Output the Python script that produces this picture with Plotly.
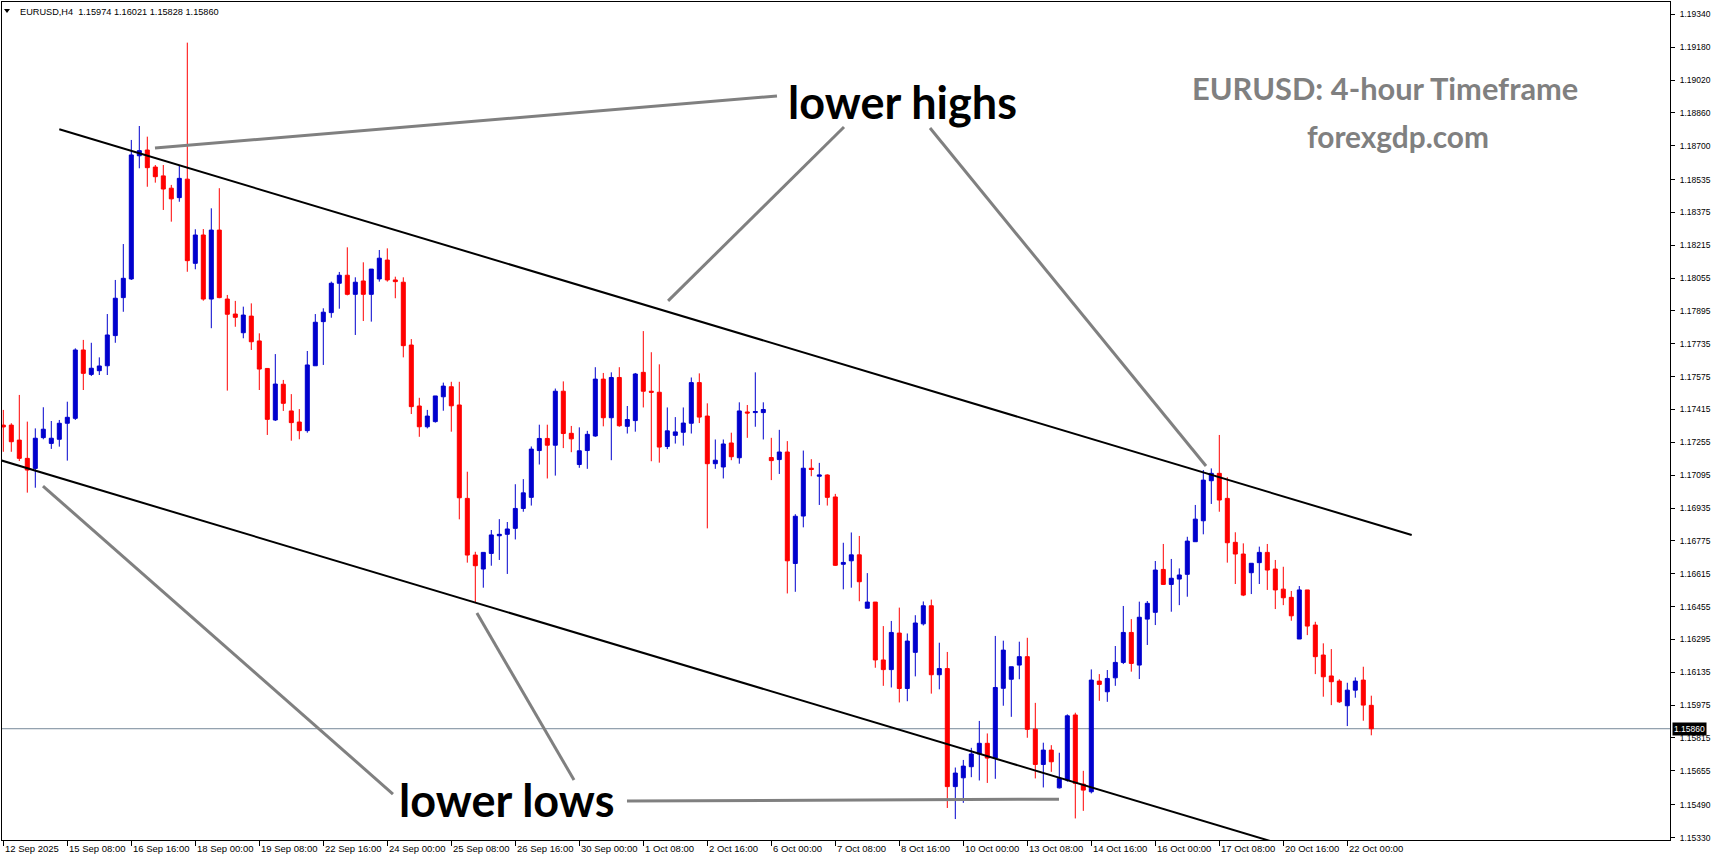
import plotly.graph_objects as go

# ---------------- data (EURUSD H4) ----------------
x_labels = ["12 Sep 2025", "15 Sep 08:00", "16 Sep 16:00", "18 Sep 00:00", "19 Sep 08:00",
            "22 Sep 16:00", "24 Sep 00:00", "25 Sep 08:00", "26 Sep 16:00", "30 Sep 00:00",
            "1 Oct 08:00", "2 Oct 16:00", "6 Oct 00:00", "7 Oct 08:00", "8 Oct 16:00",
            "10 Oct 00:00", "13 Oct 08:00", "14 Oct 16:00", "16 Oct 00:00", "17 Oct 08:00",
            "20 Oct 16:00", "22 Oct 00:00"]
label_every = 8

opens = [1.17339,1.17339,1.17266,1.17177,1.17128,1.17278,1.17250,1.17270,1.17348,1.17372,
         1.17705,1.17586,1.17604,1.17628,1.17775,1.17960,1.18051,1.18651,1.18679,1.18596,
         1.18553,1.18493,1.18447,1.18537,1.18127,1.18265,1.17953,1.18289,1.17953,1.17880,
         1.17789,1.17870,1.17749,1.17615,1.17364,1.17538,1.17408,1.17354,1.17312,1.17628,
         1.17843,1.17887,1.18030,1.18069,1.17976,1.18041,1.17976,1.18051,1.18143,1.18046,
         1.18035,1.17729,1.17432,1.17331,1.17356,1.17477,1.17526,1.17437,1.16982,1.16706,
         1.16638,1.16714,1.16800,1.16807,1.16836,1.16933,1.16987,1.17215,1.17274,1.17241,
         1.17504,1.17299,1.17147,1.17215,1.17286,1.17563,1.17375,1.17571,1.17333,1.17361,
         1.17596,1.17504,1.17499,1.17235,1.17289,1.17304,1.17348,1.17546,1.17383,1.17151,
         1.17135,1.17252,1.17180,1.17403,1.17400,1.17400,1.17181,1.17171,1.17208,1.16665,
         1.16896,1.17129,1.17090,1.17096,1.16989,1.16661,1.16678,1.16707,1.16447,1.16477,
         1.16195,1.16148,1.16326,1.16056,1.16232,1.16371,1.16459,1.16123,1.16153,1.15578,
         1.15621,1.15675,1.15737,1.15789,1.15717,1.16057,1.16101,1.16170,1.16211,1.15858,
         1.15686,1.15756,1.15572,1.15610,1.15927,1.15590,1.15553,1.16092,1.16040,1.16108,
         1.16183,1.16329,1.16170,1.16394,1.16427,1.16636,1.16563,1.16589,1.16612,1.16771,
         1.16873,1.17068,1.17104,1.16982,1.16768,1.16711,1.16620,1.16669,1.16719,1.16638,
         1.16540,1.16500,1.16297,1.16536,1.16365,1.16219,1.16117,1.16092,1.15972,1.16048,
         1.16097,1.15974]
highs = [1.17413,1.17348,1.17486,1.17356,1.17323,1.17426,1.17359,1.17364,1.17453,1.17713,
         1.17754,1.17740,1.17669,1.17880,1.18046,1.18221,1.18728,1.18796,1.18744,1.18606,
         1.18606,1.18509,1.18606,1.19202,1.18293,1.18294,1.18395,1.18493,1.17973,1.17944,
         1.17916,1.17932,1.17786,1.17617,1.17685,1.17559,1.17490,1.17417,1.17700,1.17880,
         1.17908,1.18038,1.18085,1.18205,1.18059,1.18132,1.18099,1.18192,1.18200,1.18062,
         1.18059,1.17758,1.17472,1.17413,1.17481,1.17546,1.17550,1.17550,1.17112,1.16722,
         1.16719,1.16828,1.16881,1.16867,1.17051,1.17076,1.17235,1.17341,1.17341,1.17517,
         1.17552,1.17335,1.17328,1.17311,1.17621,1.17593,1.17596,1.17621,1.17432,1.17593,
         1.17797,1.17694,1.17635,1.17425,1.17378,1.17425,1.17571,1.17591,1.17445,1.17269,
         1.17269,1.17302,1.17450,1.17437,1.17596,1.17450,1.17277,1.17316,1.17261,1.16905,
         1.17215,1.17173,1.17155,1.17099,1.17004,1.16766,1.16816,1.16799,1.16618,1.16477,
         1.16360,1.16385,1.16450,1.16324,1.16413,1.16480,1.16489,1.16279,1.16234,1.15671,
         1.15708,1.15767,1.15898,1.15837,1.16312,1.16289,1.16162,1.16284,1.16303,1.15986,
         1.15792,1.15780,1.15743,1.15930,1.15938,1.15655,1.16149,1.16126,1.16146,1.16263,
         1.16458,1.16394,1.16479,1.16482,1.16677,1.16760,1.16687,1.16641,1.16795,1.16950,
         1.17120,1.17128,1.17291,1.17085,1.16817,1.16763,1.16666,1.16747,1.16760,1.16682,
         1.16649,1.16531,1.16555,1.16536,1.16381,1.16276,1.16248,1.16101,1.16084,1.16110,
         1.16162,1.16021]
lows = [1.17209,1.17209,1.17164,1.17010,1.17034,1.17270,1.17223,1.17234,1.17166,1.17364,
        1.17510,1.17578,1.17583,1.17583,1.17740,1.17891,1.18046,1.18590,1.18500,1.18520,
        1.18387,1.18330,1.18427,1.18086,1.18098,1.17945,1.17811,1.17957,1.17507,1.17818,
        1.17762,1.17705,1.17510,1.17291,1.17359,1.17408,1.17263,1.17270,1.17302,1.17628,
        1.17632,1.17862,1.17906,1.17971,1.17778,1.17846,1.17843,1.18038,1.18038,1.17957,
        1.17669,1.17393,1.17282,1.17323,1.17351,1.17409,1.17307,1.16880,1.16669,1.16474,
        1.16547,1.16654,1.16682,1.16614,1.16782,1.16917,1.16947,1.17147,1.17079,1.17093,
        1.17227,1.17207,1.17131,1.17126,1.17282,1.17333,1.17168,1.17331,1.17298,1.17307,
        1.17425,1.17163,1.17156,1.17222,1.17249,1.17239,1.17298,1.17349,1.16836,1.17126,
        1.17079,1.17168,1.17151,1.17277,1.17331,1.17269,1.17071,1.17101,1.16519,1.16527,
        1.16841,1.17090,1.16950,1.16947,1.16653,1.16539,1.16547,1.16481,1.16447,1.16157,
        1.16069,1.16061,1.15988,1.15994,1.16115,1.16363,1.16031,1.16052,1.15474,1.15420,
        1.15499,1.15624,1.15608,1.15596,1.15616,1.15972,1.15918,1.16101,1.15816,1.15618,
        1.15574,1.15650,1.15569,1.15602,1.15423,1.15460,1.15545,1.15996,1.15991,1.16069,
        1.16175,1.16138,1.16102,1.16268,1.16365,1.16560,1.16430,1.16462,1.16503,1.16771,
        1.16807,1.16955,1.16917,1.16669,1.16565,1.16506,1.16516,1.16565,1.16536,1.16443,
        1.16462,1.16386,1.16297,1.16316,1.16126,1.16016,1.15975,1.15986,1.15873,1.16011,
        1.15899,1.15828]
closes = [1.17330,1.17258,1.17177,1.17120,1.17275,1.17319,1.17275,1.17348,1.17377,1.17705,
          1.17591,1.17616,1.17627,1.17778,1.17957,1.18054,1.18655,1.18676,1.18593,1.18549,
          1.18489,1.18441,1.18541,1.18140,1.18265,1.17953,1.18289,1.17960,1.17879,1.17864,
          1.17875,1.17745,1.17612,1.17367,1.17539,1.17445,1.17351,1.17312,1.17632,1.17840,
          1.17889,1.18030,1.18069,1.17976,1.18035,1.17976,1.18099,1.18152,1.18046,1.18038,
          1.17726,1.17429,1.17331,1.17383,1.17481,1.17529,1.17433,1.16985,1.16706,1.16654,
          1.16719,1.16804,1.16807,1.16833,1.16933,1.17009,1.17222,1.17274,1.17241,1.17504,
          1.17298,1.17272,1.17214,1.17294,1.17563,1.17375,1.17571,1.17336,1.17366,1.17588,
          1.17504,1.17499,1.17232,1.17311,1.17306,1.17349,1.17546,1.17378,1.17151,1.17168,
          1.17247,1.17185,1.17408,1.17398,1.17405,1.17415,1.17166,1.17208,1.16678,1.16895,
          1.17129,1.17123,1.17096,1.16987,1.16656,1.16670,1.16707,1.16576,1.16477,1.16195,
          1.16148,1.16329,1.16056,1.16287,1.16375,1.16459,1.16123,1.16153,1.15578,1.15644,
          1.15678,1.15737,1.15789,1.15717,1.16061,1.16243,1.16162,1.16211,1.15857,1.15686,
          1.15756,1.15699,1.15618,1.15923,1.15594,1.15561,1.16097,1.16076,1.16105,1.16183,
          1.16329,1.16178,1.16403,1.16471,1.16633,1.16563,1.16593,1.16609,1.16774,1.16881,
          1.17071,1.17104,1.16974,1.16766,1.16711,1.16511,1.16666,1.16719,1.16633,1.16536,
          1.16498,1.16410,1.16536,1.16360,1.16211,1.16113,1.16089,1.15991,1.16048,1.16092,
          1.15975,1.15860]

y_tick_labels = ["1.19340", "1.19180", "1.19020", "1.18860", "1.18700", "1.18535", "1.18375",
                 "1.18215", "1.18055", "1.17895", "1.17735", "1.17575", "1.17415", "1.17255",
                 "1.17095", "1.16935", "1.16775", "1.16615", "1.16455", "1.16295", "1.16135",
                 "1.15975", "1.15815", "1.15655", "1.15490", "1.15330"]
current_price = 1.15860
header_text = "EURUSD,H4\u00a0\u00a01.15974 1.16021 1.15828 1.15860"

# trend channel lines: (bar index, price)
upper_channel = [(7.0, 1.18780), (176.05, 1.16804)]
lower_channel = [(-0.5, 1.17170), (160.0, 1.15294)]
# gray pointer lines
pointer_lines = [
    [(18.96, 1.18689), (96.71, 1.18942)],
    [(105.09, 1.18791), (83.1, 1.17944)],
    [(115.84, 1.18786), (150.34, 1.17140)],
    [(4.96, 1.17042), (48.71, 1.15542)],
    [(59.2, 1.16424), (71.34, 1.15610)],
    [(77.96, 1.15508), (131.96, 1.15517)],
]

# ---------------- layout geometry ----------------
W, H = 1716, 861
ML, MR, MT, MB = 2, 46, 2, 21
PW = W - ML - MR
PH = H - MT - MB
BAR_PX = 8.0
x0 = -0.1625
x_range = [x0, x0 + PW / BAR_PX]
y_range = [1.15318, 1.19400]


def pxx(x):
    return (x - ML) / PW


def pyy(y):
    return (H - MB - y) / PH


idx = list(range(len(opens)))
BLUE = "#0000CD"
RED = "#FF0000"

fig = go.Figure()
fig.add_trace(go.Candlestick(
    x=idx, open=opens, high=highs, low=lows, close=closes,
    increasing=dict(line=dict(color=BLUE, width=1), fillcolor=BLUE),
    decreasing=dict(line=dict(color=RED, width=1), fillcolor=RED),
    whiskerwidth=0, hoverinfo="skip", showlegend=False,
))

shapes = []
# current price line
shapes.append(dict(type="line", xref="paper", yref="y", x0=0, x1=1, y0=current_price, y1=current_price,
                   line=dict(color="#778899", width=1), layer="below"))
for (a, b) in [upper_channel, lower_channel]:
    shapes.append(dict(type="line", xref="x", yref="y", x0=a[0], y0=a[1], x1=b[0], y1=b[1],
                       line=dict(color="black", width=2)))
for (a, b) in pointer_lines:
    shapes.append(dict(type="line", xref="x", yref="y", x0=a[0], y0=a[1], x1=b[0], y1=b[1],
                       line=dict(color="#808080", width=3)))
# header triangle
tx0, tx1, ty0, ty1 = 4, 10, 9, 13
shapes.append(dict(type="path", xref="paper", yref="paper",
                   path=f"M {pxx(tx0)} {pyy(ty0)} L {pxx(tx1)} {pyy(ty0)} L {pxx((tx0+tx1)/2)} {pyy(ty1)} Z",
                   fillcolor="black", line=dict(width=0)))

ann = []
xlab_font = dict(family="Liberation Sans, Arial, sans-serif", size=9.5, color="black")
head_font = dict(family="Liberation Sans, Arial, sans-serif", size=9.2, color="black")
tick_idx = [i * label_every for i in range(len(x_labels))]
for i, lab in zip(tick_idx, x_labels):
    ann.append(dict(x=i, xref="x", y=0, yref="paper", xanchor="left", yanchor="top",
                    xshift=0, yshift=-1, text=lab, showarrow=False, font=xlab_font))
ann.append(dict(x=pxx(18), y=pyy(11.5), xref="paper", yref="paper", xanchor="left", yanchor="middle",
                text=header_text, showarrow=False, font=head_font))
ann.append(dict(x=1, xref="paper", y=current_price, yref="y", xanchor="left", yanchor="middle",
                xshift=2, text=f"{current_price:.5f}", showarrow=False,
                bgcolor="black", borderpad=1,
                font=dict(family="Liberation Sans, Arial, sans-serif", size=8.5, color="white")))

big = dict(family="Lato, sans-serif", size=45, color="black", weight=700)
ann.append(dict(x=pxx(786), y=pyy(102), xref="paper", yref="paper", xanchor="left", yanchor="middle",
                text="lower highs", showarrow=False, font=big))
ann.append(dict(x=pxx(397), y=pyy(800), xref="paper", yref="paper", xanchor="left", yanchor="middle",
                text="lower lows", showarrow=False, font=big))
ann.append(dict(x=pxx(1384.5), y=pyy(88), xref="paper", yref="paper", xanchor="center", yanchor="middle",
                text="EURUSD: 4-hour Timeframe", showarrow=False,
                font=dict(family="Lato, sans-serif", size=30.8, color="#808080", weight=700)))
ann.append(dict(x=pxx(1397.5), y=pyy(137), xref="paper", yref="paper", xanchor="center", yanchor="middle",
                text="forexgdp.com", showarrow=False,
                font=dict(family="Lato, sans-serif", size=29.8, color="#808080", weight=700)))

fig.update_layout(
    width=W, height=H,
    margin=dict(l=ML, r=MR, t=MT, b=MB, pad=0),
    paper_bgcolor="white", plot_bgcolor="white",
    boxgap=0.5, boxgroupgap=0,
    showlegend=False,
    xaxis=dict(range=x_range, showgrid=False, zeroline=False, showline=True, linecolor="black",
               linewidth=1, mirror=True, ticks="outside", ticklen=5, tickcolor="black",
               tickvals=tick_idx, ticktext=[""] * len(tick_idx),
               rangeslider=dict(visible=False), fixedrange=True),
    yaxis=dict(range=y_range, side="right", showgrid=False, zeroline=False, showline=True,
               linecolor="black", linewidth=1, mirror=True, ticks="outside", ticklen=4,
               tickcolor="black", tickvals=[float(v) for v in y_tick_labels], ticktext=y_tick_labels,
               tickfont=dict(family="Liberation Sans, Arial, sans-serif", size=8.5, color="black"),
               ticklabelstandoff=3, fixedrange=True),
    shapes=shapes, annotations=ann,
    hovermode=False,
)

fig.write_html("out.html")
